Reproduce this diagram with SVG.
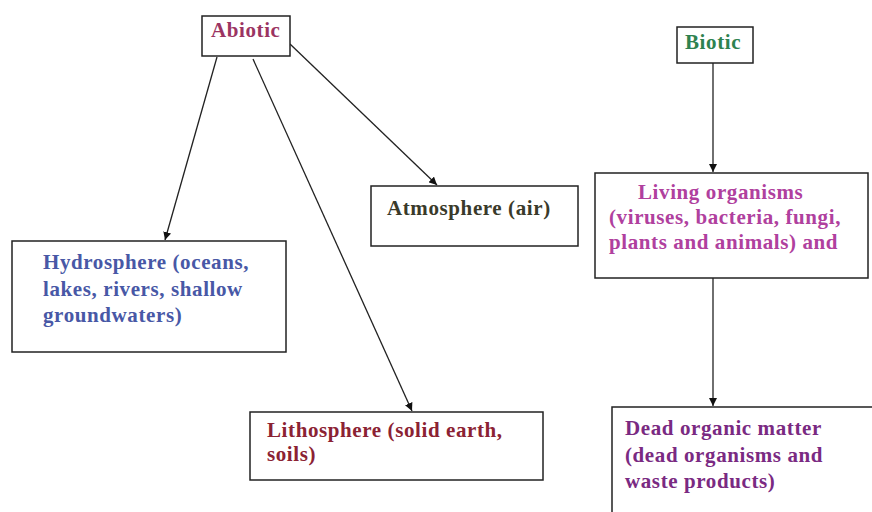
<svg xmlns="http://www.w3.org/2000/svg" width="872" height="512" viewBox="0 0 872 512">
<style>
.box{fill:#fff;stroke:#222;stroke-width:1.5}
text{font-family:"Liberation Serif","Times New Roman",serif;font-weight:bold;font-size:21px;letter-spacing:0.6px}
.con{stroke:#222;stroke-width:1.3;fill:none;marker-end:url(#ah)}
</style>
<defs>
<marker id="ah" viewBox="0 0 10 10" refX="10" refY="5" markerWidth="8" markerHeight="8" markerUnits="userSpaceOnUse" orient="auto">
<path d="M0,0 L10,5 L0,10 z" fill="#111"/>
</marker>
</defs>
<rect width="872" height="512" fill="#fff"/>
<g id="connectors">
<line class="con" x1="217" y1="57" x2="165" y2="240"/>
<line class="con" x1="253" y1="59" x2="412" y2="411"/>
<line class="con" x1="290" y1="44" x2="437" y2="185"/>
<line class="con" x1="713" y1="63" x2="713" y2="172"/>
<line class="con" x1="713" y1="278" x2="713" y2="406"/>
</g>
<g id="abiotic">
<rect class="box" x="202" y="16" width="88" height="40"/>
<text x="211" y="37" fill="#9b3462">Abiotic</text>
</g>
<g id="atmosphere">
<rect class="box" x="371" y="186" width="207" height="60"/>
<text x="387" y="215" fill="#3a3a2a">Atmosphere (air)</text>
</g>
<g id="hydrosphere">
<rect class="box" x="12" y="241" width="274" height="111"/>
<text fill="#4858a6"><tspan x="43" y="269">Hydrosphere (oceans,</tspan><tspan x="43" y="296">lakes, rivers, shallow</tspan><tspan x="43" y="322">groundwaters)</tspan></text>
</g>
<g id="lithosphere">
<rect class="box" x="250" y="412" width="293" height="68"/>
<text fill="#8b2233"><tspan x="267" y="437">Lithosphere (solid earth,</tspan><tspan x="267" y="461">soils)</tspan></text>
</g>
<g id="biotic">
<rect class="box" x="677" y="27" width="76" height="36"/>
<text x="685" y="49" fill="#2e8250">Biotic</text>
</g>
<g id="living">
<rect class="box" x="595" y="173" width="273" height="105"/>
<text fill="#b0409e"><tspan x="638" y="199">Living organisms</tspan><tspan x="609" y="224">(viruses, bacteria, fungi,</tspan><tspan x="609" y="249">plants and animals) and</tspan></text>
</g>
<g id="dead">
<rect class="box" x="612" y="407" width="280" height="120"/>
<text fill="#7a2a82"><tspan x="625" y="435">Dead organic matter</tspan><tspan x="625" y="462">(dead organisms and</tspan><tspan x="625" y="488">waste products)</tspan></text>
</g>
</svg>
